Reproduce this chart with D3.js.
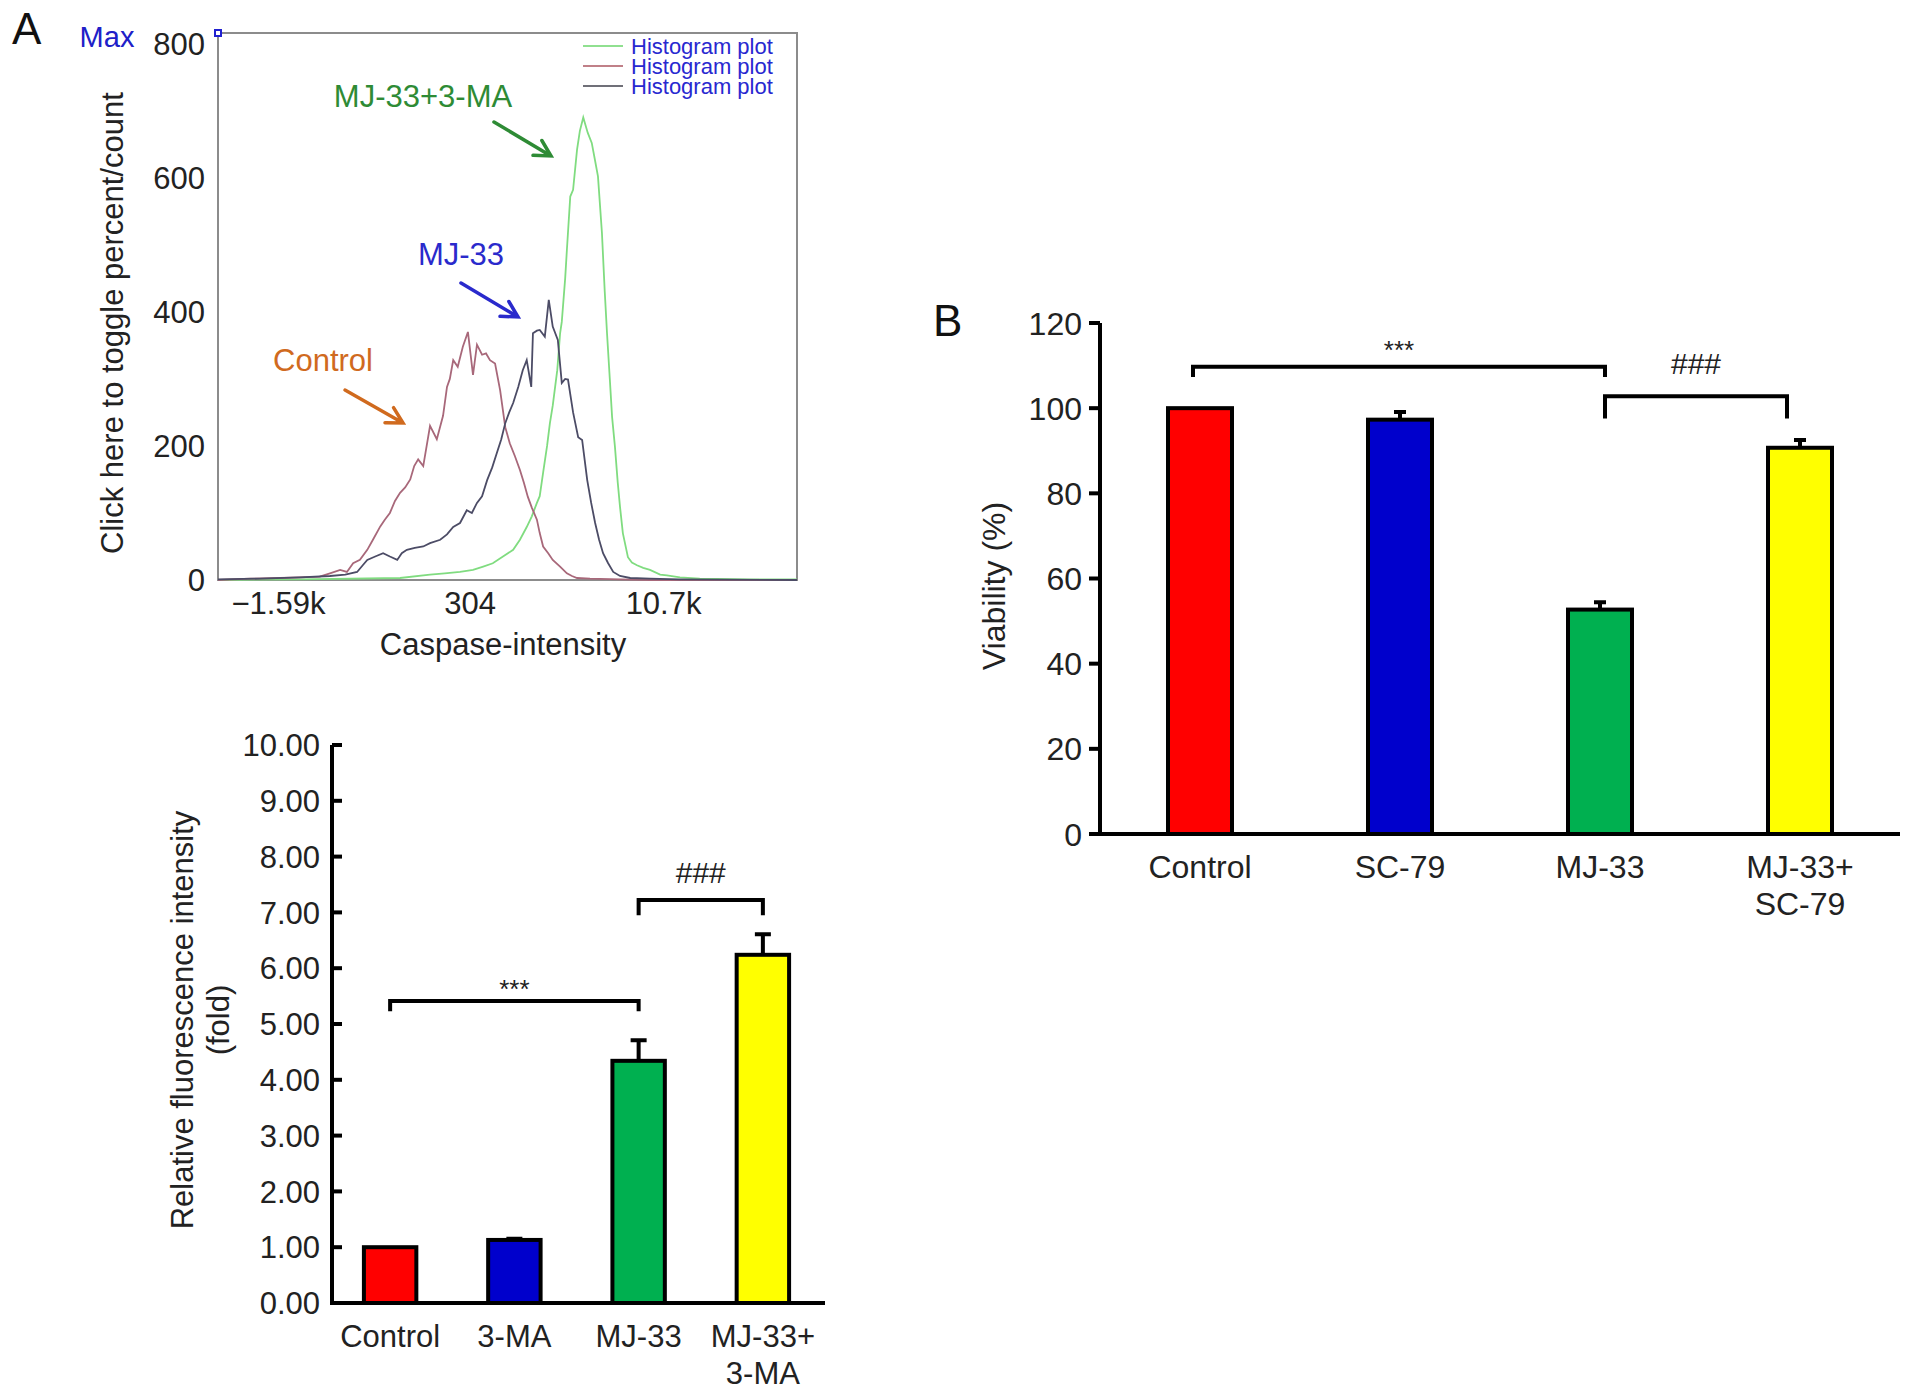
<!DOCTYPE html>
<html>
<head>
<meta charset="utf-8">
<script src="https://cdn.jsdelivr.net/npm/d3@7/dist/d3.min.js"></script>
<style>
  body { margin: 0; background: #fff; }
  text { font-family: "Liberation Sans", Arial, sans-serif; }
  .narrow text { font-family: "Liberation Sans Narrow", "Liberation Sans", Arial, sans-serif; }
</style>
</head>
<body>
<svg width="1913" height="1396"></svg>
<script>
// ---- DATA ----

// histogram (channel 0-1024, count)
const controlCh   = [0, 57, 110, 145, 180, 198, 216, 228, 239, 251, 264, 274, 287, 295, 304, 313, 322, 331, 340, 347, 354, 363, 370, 375, 387, 398, 405, 410, 416, 424, 433, 442, 451, 458, 467, 474, 481, 490, 499, 508, 516, 525, 534, 541, 548, 555, 564, 569, 575, 584, 592, 605, 617, 626, 635, 658, 711, 764, 1024];
const controlCnt  = [0, 2, 3, 4, 5, 10, 15, 12, 25, 30, 45, 60, 80, 90, 100, 118, 130, 138, 150, 170, 180, 170, 205, 230, 210, 245, 288, 300, 328, 318, 348, 370, 306, 351, 336, 338, 328, 323, 283, 228, 204, 185, 164, 145, 124, 108, 90, 70, 50, 40, 30, 20, 10, 6, 3, 2, 1, 0, 0];

const mj33Ch  = [0, 74, 145, 198, 225, 246, 256, 264, 278, 292, 304, 317, 325, 334, 348, 363, 375, 393, 405, 416, 428, 440, 449, 458, 467, 476, 485, 493, 501, 508, 515, 522, 531, 539, 546, 554, 557, 564, 569, 578, 585, 592, 601, 608, 614, 619, 628, 637, 644, 653, 660, 667, 674, 681, 690, 699, 711, 729, 764, 817, 1024];
const mj33Cnt = [1, 2, 4, 6, 8, 12, 22, 30, 35, 40, 35, 30, 40, 45, 48, 50, 55, 60, 68, 79, 85, 104, 100, 115, 125, 149, 168, 189, 210, 234, 250, 264, 288, 313, 328, 288, 368, 372, 373, 363, 418, 378, 358, 294, 300, 299, 250, 213, 209, 149, 115, 85, 60, 40, 25, 12, 6, 3, 2, 1, 0];

const comboCh  = [0, 145, 322, 375, 401, 428, 451, 469, 486, 504, 522, 534, 546, 555, 564, 569, 575, 582, 587, 592, 600, 605, 608, 614, 617, 623, 628, 635, 640, 646, 654, 661, 667, 672, 679, 684, 688, 693, 697, 702, 707, 711, 716, 725, 732, 741, 752, 764, 782, 794, 817, 852, 941, 1024];
const comboCnt = [0, 1, 3, 8, 10, 12, 15, 20, 25, 35, 45, 60, 79, 95, 115, 125, 160, 200, 234, 260, 313, 368, 385, 450, 492, 572, 582, 642, 670, 690, 667, 652, 625, 602, 518, 430, 368, 299, 243, 199, 145, 109, 70, 34, 26, 22, 18, 15, 8, 7, 4, 2, 1, 1];

const histTickCh     = [107, 446, 788];
const histTickLabels = ["\u22121.59k", "304", "10.7k"];
const histYTicks     = [0, 200, 400, 600, 800];

// fluorescence bar chart
const fluoGroups = ["Control", "3-MA", "MJ-33", "MJ-33+\n3-MA"];
const fluoMeans  = [1.00, 1.13, 4.34, 6.24];
const fluoErrs   = [0.00, 0.02, 0.37, 0.37];
const fluoTicks  = [0, 1, 2, 3, 4, 5, 6, 7, 8, 9, 10];

// viability bar chart
const viaGroups = ["Control", "SC-79", "MJ-33", "MJ-33+\nSC-79"];
const viaMeans  = [100, 97.3, 52.7, 90.7];
const viaErrs   = [0, 1.8, 1.7, 1.8];
const viaTicks  = [0, 20, 40, 60, 80, 100, 120];

const barColors = ["#ff0000", "#0000cc", "#00b050", "#ffff00"];

// ---- RENDER ----
const svg = d3.select("svg");
svg.append("rect").attr("width", 1913).attr("height", 1396).attr("fill", "#fff");

// panel letters
svg.append("text").text("A").attr("x", 12).attr("y", 44)
    .style("font-size", "44px").style("fill", "#111");
svg.append("text").text("B").attr("x", 933).attr("y", 336)
    .style("font-size", "44px").style("fill", "#111");

// ========== histogram ==========
function drawHistogram() {
    const g = svg.append("g");
    const x = d3.scaleLinear().domain([0, 1024]).range([218, 797]);
    const y = d3.scaleLinear().domain([0, 816]).range([580, 33]);

    g.append("rect")
        .attr("x", x(0)).attr("y", y(816))
        .attr("width", x(1024) - x(0)).attr("height", y(0) - y(816))
        .attr("fill", "none").attr("stroke", "#8c8c8c").attr("stroke-width", 2);

    // Max marker
    g.append("rect").attr("x", x(0) - 3).attr("y", y(816) - 3).attr("width", 6).attr("height", 6)
        .attr("fill", "#fff").attr("stroke", "#2020d0").attr("stroke-width", 2);
    g.append("text").text("Max").attr("x", 107).attr("y", 47)
        .attr("text-anchor", "middle").style("font-size", "29px").style("fill", "#2020c8");

    g.selectAll(".ytl").data(histYTicks).enter().append("text")
        .attr("x", 205).attr("y", d => y(d)).attr("dy", "0.36em")
        .attr("text-anchor", "end").style("font-size", "31px").style("fill", "#222")
        .text(d => d);

    g.selectAll(".xtl").data(histTickCh).enter().append("text")
        .attr("x", d => x(d)).attr("y", 614)
        .attr("text-anchor", "middle").style("font-size", "31px").style("fill", "#222")
        .text((d, i) => histTickLabels[i]);

    g.append("text").text("Caspase-intensity").attr("x", 503).attr("y", 655)
        .attr("text-anchor", "middle").style("font-size", "31px").style("fill", "#222");

    g.append("text").text("Click here to toggle percent/count")
        .attr("transform", "translate(123,323) rotate(-90)")
        .attr("text-anchor", "middle").style("font-size", "31px").style("fill", "#222");

    const series = [
        { ch: comboCh, cnt: comboCnt, color: "#80dc80" },
        { ch: controlCh, cnt: controlCnt, color: "#a8687a" },
        { ch: mj33Ch, cnt: mj33Cnt, color: "#4c4c66" }
    ];
    const line = d3.line().x(d => x(d[0])).y(d => y(d[1]));
    series.forEach(s => {
        g.append("path")
            .datum(s.ch.map((c, i) => [c, s.cnt[i]]))
            .attr("d", line)
            .attr("fill", "none").attr("stroke", s.color).attr("stroke-width", 1.8);
    });

    // legend
    const legColors = ["#90e090", "#c08088", "#707078"];
    legColors.forEach((c, i) => {
        const ly = 46 + i * 20;
        g.append("line").attr("x1", 583).attr("x2", 623).attr("y1", ly).attr("y2", ly)
            .attr("stroke", c).attr("stroke-width", 2);
        g.append("text").text("Histogram plot").attr("x", 631).attr("y", ly).attr("dy", "0.35em")
            .style("font-size", "22px").style("fill", "#2828d0");
    });

    // annotations with arrows
    const notes = [
        { text: "MJ-33+3-MA", color: "#2e8b35", tx: 423, ty: 107, from: [494, 122], to: [551, 156] },
        { text: "MJ-33", color: "#2a2acc", tx: 461, ty: 265, from: [461, 283], to: [518, 317] },
        { text: "Control", color: "#d06a1e", tx: 323, ty: 371, from: [345, 390], to: [403, 423] }
    ];
    notes.forEach(n => {
        g.append("text").text(n.text).attr("x", n.tx).attr("y", n.ty)
            .attr("text-anchor", "middle").style("font-size", "31px").style("fill", n.color);
        const ang = Math.atan2(n.to[1] - n.from[1], n.to[0] - n.from[0]);
        const hl = 18, ha = 0.5;
        const p1 = [n.to[0] - hl * Math.cos(ang - ha), n.to[1] - hl * Math.sin(ang - ha)];
        const p2 = [n.to[0] - hl * Math.cos(ang + ha), n.to[1] - hl * Math.sin(ang + ha)];
        g.append("path")
            .attr("d", `M${n.from}L${n.to}M${p1}L${n.to}L${p2}`)
            .attr("fill", "none").attr("stroke", n.color).attr("stroke-width", 3.5)
            .attr("stroke-linecap", "round");
    });
}

// ========== generic bar chart ==========
function drawBars(opts) {
    const g = svg.append("g").attr("class", opts.narrow ? "narrow" : null);
    const x = d3.scaleBand().domain(opts.groups).range(opts.xRange)
        .paddingInner(opts.padIn).paddingOuter(opts.padIn / 2);
    const y = d3.scaleLinear().domain(opts.yDomain).range(opts.yRange);
    const bw = x.bandwidth();

    g.selectAll(".bar").data(opts.groups).enter().append("rect")
        .attr("x", d => x(d)).attr("width", bw)
        .attr("y", (d, i) => y(opts.means[i]))
        .attr("height", (d, i) => y(0) - y(opts.means[i]))
        .attr("fill", (d, i) => barColors[i])
        .attr("stroke", "#000").attr("stroke-width", opts.sw);

    // error bars
    opts.groups.forEach((d, i) => {
        if (!opts.errs[i]) return;
        const cx = x(d) + bw / 2;
        g.append("path")
            .attr("d", `M${cx},${y(opts.means[i])}V${y(opts.means[i] + opts.errs[i])}M${cx - opts.cap},${y(opts.means[i] + opts.errs[i])}H${cx + opts.cap}`)
            .attr("stroke", "#000").attr("stroke-width", opts.sw).attr("fill", "none");
    });

    // axes
    const x0 = opts.axisX;
    g.append("line").attr("x1", x0).attr("x2", x0).attr("y1", y(opts.yDomain[1])).attr("y2", y(0))
        .attr("stroke", "#000").attr("stroke-width", opts.sw);
    g.append("line").attr("x1", x0 - opts.sw / 2).attr("x2", opts.xEnd).attr("y1", y(0)).attr("y2", y(0))
        .attr("stroke", "#000").attr("stroke-width", opts.sw);
    g.selectAll(".tick").data(opts.ticks).enter().append("line")
        .attr("x1", x0).attr("x2", x0 + opts.tickLen)
        .attr("y1", d => y(d)).attr("y2", d => y(d))
        .attr("stroke", "#000").attr("stroke-width", opts.sw);
    g.selectAll(".ytl").data(opts.ticks).enter().append("text")
        .attr("x", x0 + opts.labelDx).attr("y", d => y(d)).attr("dy", "0.36em")
        .attr("text-anchor", "end").style("font-size", opts.fs + "px").style("fill", "#222")
        .text(opts.fmt);

    // category labels
    g.selectAll(".xtl").data(opts.groups).enter().append("text")
        .attr("x", d => x(d) + bw / 2)
        .attr("y", y(0) + opts.catDy)
        .attr("text-anchor", "middle").style("font-size", opts.fs + "px").style("fill", "#222")
        .each(function (d) {
            d.split("\n").forEach((part, k) => {
                d3.select(this).append("tspan").attr("x", x(d) + bw / 2)
                    .attr("dy", k === 0 ? 0 : opts.lineH).text(part);
            });
        });

    // y label
    const yl = g.append("text")
        .attr("transform", `translate(${opts.yLabelX},${opts.yLabelY}) rotate(-90)`)
        .attr("text-anchor", "middle").style("font-size", opts.fs + "px").style("fill", "#222");
    opts.yLabel.forEach((t, k) => {
        yl.append("tspan").attr("x", 0).attr("dy", k === 0 ? 0 : opts.yLabelGap).text(t);
    });

    // significance brackets
    opts.brackets.forEach(b => {
        const xa = x(opts.groups[b.a]) + bw / 2 + b.oa, xb = x(opts.groups[b.b]) + bw / 2 + b.ob;
        g.append("path")
            .attr("d", `M${xa},${y(b.ya)}V${y(b.h)}H${xb}V${y(b.yb)}`)
            .attr("fill", "none").attr("stroke", "#000").attr("stroke-width", opts.sw);
        g.append("text").text(b.label)
            .attr("x", (xa + xb) / 2).attr("y", y(b.h) + b.dy)
            .attr("text-anchor", "middle").style("font-size", b.fs + "px").style("fill", "#222");
    });
}

drawHistogram();

drawBars({
    groups: fluoGroups, means: fluoMeans, errs: fluoErrs, ticks: fluoTicks,
    xRange: [328, 825], padIn: 0.578, axisX: 332, xEnd: 825,
    yDomain: [0, 10], yRange: [1303, 745],
    sw: 4, cap: 8, tickLen: 10, labelDx: -12, fs: 31, fmt: d => d.toFixed(2),
    catDy: 44, lineH: 37, yLabelGap: 36,
    yLabel: ["Relative fluorescence intensity", "(fold)"], yLabelX: 193, yLabelY: 1020,
    brackets: [
        { a: 0, b: 2, h: 5.41, ya: 5.23, yb: 5.23, oa: 0, ob: 0, label: "***", dy: -3, fs: 26 },
        { a: 2, b: 3, h: 7.22, ya: 6.95, yb: 6.95, oa: 0, ob: 0, label: "###", dy: -17, fs: 30 }
    ]
});

drawBars({
    narrow: true,
    groups: viaGroups, means: viaMeans, errs: viaErrs, ticks: viaTicks,
    xRange: [1100, 1900], padIn: 0.68, axisX: 1100, xEnd: 1900,
    yDomain: [0, 120], yRange: [834, 323],
    sw: 4, cap: 6, tickLen: -11, labelDx: -18, fs: 32, fmt: d => d,
    catDy: 44, lineH: 37, yLabelGap: 0,
    yLabel: ["Viability (%)"], yLabelX: 1005, yLabelY: 586,
    brackets: [
        { a: 0, b: 2, h: 109.7, ya: 107.3, yb: 107.3, oa: -7, ob: 5, label: "***", dy: -8, fs: 26 },
        { a: 2, b: 3, h: 102.8, ya: 97.6, yb: 97.6, oa: 5, ob: -13, label: "###", dy: -22, fs: 30 }
    ]
});
</script>
</body>
</html>
